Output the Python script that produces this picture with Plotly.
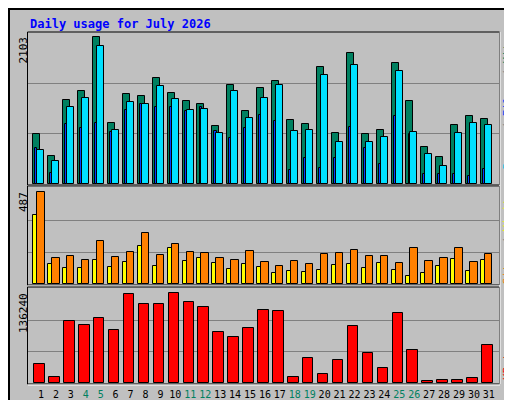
import plotly.graph_objects as go

days = list(range(1, 32))
weekend = [4, 5, 11, 12, 18, 19, 25, 26]

hits = [715, 401, 1202, 1331, 2103, 873, 1288, 1259, 1517, 1302, 1187, 1145, 830, 1416, 1044, 1373,
        1474, 916, 858, 1674, 730, 1874, 715, 773, 1731, 1187, 529, 386, 844, 973, 930]
files = [486, 329, 1102, 1230, 1974, 773, 1173, 1145, 1402, 1216, 1059, 1073, 730, 1331, 944, 1230,
         1416, 758, 773, 1559, 601, 1703, 601, 672, 1617, 744, 429, 258, 730, 873, 844]
pages = [515, 157, 858, 801, 873, 744, 1059, 1145, 1102, 1102, 1044, 1102, 758, 658, 801, 987,
         901, 200, 372, 229, 372, 815, 515, 286, 973, 715, 143, 143, 143, 114, 215]
visits = [487, 138, 148, 127, 228, 143, 169, 270, 154, 212, 169, 164, 138, 127, 175, 116,
          95, 122, 106, 159, 164, 180, 148, 148, 111, 191, 122, 138, 191, 116, 159]
sites = [365, 106, 85, 85, 127, 90, 116, 201, 95, 191, 122, 138, 111, 79, 106, 90,
         58, 69, 64, 74, 101, 106, 85, 111, 74, 42, 58, 95, 132, 69, 127]
kbytes = [28443, 8982, 92814, 86826, 97305, 79341, 134730, 119760, 119760, 136240, 122754, 115269,
          76347, 68862, 82335, 109281, 107784, 8982, 37425, 13473, 34431, 85329, 44910, 22455,
          104790, 49401, 2994, 4491, 4491, 7485, 56886]

W, H = 512, 400
def px(x): return x / W
def py(y): return 1 - y / H

fig = go.Figure()
ln = dict(color="black", width=1)
def bars(vals, color, off, wid, ax):
    fig.add_trace(go.Bar(x=days, y=vals, marker=dict(color=color, line=ln),
                         offset=off, width=wid, xaxis=ax[0], yaxis=ax[1], hoverinfo="skip"))

bars(hits, "#008060", -0.52, 0.47, ("x", "y"))
bars(pages, "#0040FF", -0.38, 0.14, ("x", "y"))
bars(files, "#00E0FF", -0.25, 0.47, ("x", "y"))
bars(sites, "#FFFF00", -0.52, 0.27, ("x2", "y2"))
bars(visits, "#FF8000", -0.25, 0.49, ("x2", "y2"))
bars(kbytes, "#FF0000", -0.45, 0.70, ("x3", "y3"))

xr = [0.13, 31.68]
tick_text = [f'<span style="color:#008060">{d}</span>' if d in weekend else str(d) for d in days]
xcommon = dict(range=xr, domain=[px(20), px(491)], showgrid=False, zeroline=False,
               showline=False, fixedrange=True, automargin=False)
fig.update_layout(
    xaxis=dict(**xcommon, showticklabels=False, anchor="y"),
    xaxis2=dict(**xcommon, showticklabels=False, anchor="y2"),
    xaxis3=dict(**xcommon, anchor="y3", tickvals=days, ticktext=tick_text, ticks="",
                tickangle=0, ticklabelstandoff=4,
                tickfont=dict(family="DejaVu Sans Mono", size=10, color="black")),
)
def yax(top, domain, anchor):
    return dict(range=[0, top], domain=domain, anchor=anchor, tickvals=[top / 3, 2 * top / 3],
                showticklabels=False, showgrid=True, gridcolor="#808080", gridwidth=1,
                zeroline=False, showline=False, automargin=False)
fig.update_layout(
    yaxis=yax(2160, [py(176), py(25)], "x"),
    yaxis2=yax(510, [py(276), py(180)], "x2"),
    yaxis3=yax(141630, [py(375), py(281)], "x3"),
)

shapes = [dict(type="rect", xref="paper", yref="paper", x0=px(1), x1=px(511), y0=py(399), y1=py(1),
               line=dict(color="black", width=2))]
for t, b in [(24, 177), (178, 277), (279, 376)]:
    shapes.append(dict(type="rect", xref="paper", yref="paper", x0=px(19.5), x1=px(491.5),
                       y0=py(b), y1=py(t), line=dict(color="black", width=1), layer="above"))
    shapes.append(dict(type="line", xref="paper", yref="paper", x0=px(20), x1=px(492),
                       y0=py(b + 1), y1=py(b + 1), line=dict(color="white", width=1)))
shapes.append(dict(type="line", xref="paper", yref="paper", x0=px(492), x1=px(492),
                   y0=py(376), y1=py(24), line=dict(color="white", width=1)))

mono = "DejaVu Sans Mono"
ann = [
    dict(text="<b>Daily usage for July 2026</b>", x=px(20), y=py(16), xanchor="left", yanchor="middle",
         font=dict(family=mono, size=12, color="#0000FF")),
    dict(text="2103", x=px(15), y=py(27), textangle=-90, yanchor="top", xanchor="center",
         font=dict(family=mono, size=11, color="black")),
    dict(text="487", x=px(15), y=py(182), textangle=-90, yanchor="top", xanchor="center",
         font=dict(family=mono, size=11, color="black")),
    dict(text="136240", x=px(15), y=py(283), textangle=-90, yanchor="top", xanchor="center",
         font=dict(family=mono, size=11, color="black")),
    dict(text='<span style="color:#00C0E0">Pages</span> / <span style="color:#0040FF">Files</span>'
              ' / <span style="color:#008060">Hits</span>',
         x=px(499), y=py(27), textangle=-90, yanchor="top", xanchor="center",
         font=dict(family=mono, size=11, color="#808080")),
    dict(text='<span style="color:#FF8000">Sites</span> / <span style="color:#FFFF00">Visits</span>',
         x=px(499), y=py(182), textangle=-90, yanchor="top", xanchor="center",
         font=dict(family=mono, size=11, color="#808080")),
    dict(text="KBytes", x=px(499), y=py(374), textangle=-90, yanchor="bottom", xanchor="center",
         font=dict(family=mono, size=11, color="#FF0000")),
]
for a in ann:
    a.update(xref="paper", yref="paper", showarrow=False)

fig.update_layout(width=W, height=H, margin=dict(l=0, r=0, t=0, b=0, autoexpand=False),
                  paper_bgcolor="#C0C0C0", plot_bgcolor="#C0C0C0", barmode="overlay",
                  bargap=0, showlegend=False, shapes=shapes, annotations=ann)
fig.write_html("out.html")
